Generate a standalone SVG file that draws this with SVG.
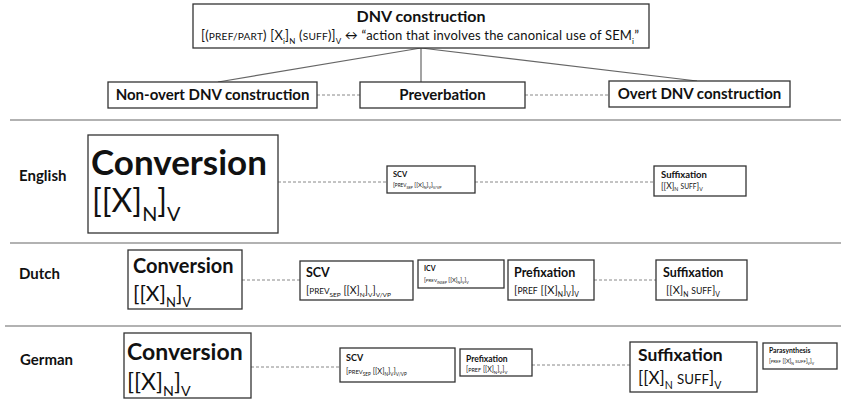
<svg xmlns="http://www.w3.org/2000/svg" width="843" height="400" viewBox="0 0 843 400">
<style>
text{font-family:Lato,"Open Sans","Liberation Sans",sans-serif;fill:#111}
.b{font-weight:bold}
.box{fill:#fff;stroke:#333;stroke-width:1.3}
.sep{stroke:#999;stroke-width:1.6}
.dash{stroke:#888;stroke-width:1;stroke-dasharray:3 2;fill:none}
.ln{stroke:#666;stroke-width:1.2;fill:none}
.sc{font-size:78%}
.sub{font-size:62%;baseline-shift:-0.45em}
</style>
<rect width="843" height="400" fill="#fff"/>
<g id="separators">
<line class="sep" x1="10" y1="120" x2="841" y2="120"/>
<line class="sep" x1="10" y1="243" x2="841" y2="243"/>
<line class="sep" x1="5" y1="326" x2="841" y2="326"/>
</g>
<g id="connectors">
<line class="ln" x1="421" y1="48" x2="218" y2="82"/>
<line class="ln" x1="421" y1="48" x2="421" y2="82"/>
<line class="ln" x1="421" y1="48" x2="697" y2="81"/>
<line class="dash" x1="317" y1="95" x2="360" y2="95"/>
<line class="dash" x1="525" y1="95" x2="609" y2="95"/>
<line class="dash" x1="278" y1="182" x2="387" y2="182"/>
<line class="dash" x1="475" y1="182" x2="654" y2="182"/>
<line class="dash" x1="242" y1="280" x2="300" y2="280"/>
<line class="dash" x1="594" y1="280" x2="656" y2="280"/>
<line class="dash" x1="251" y1="367" x2="340" y2="367"/>
<line class="dash" x1="532" y1="365" x2="630" y2="365"/>
</g>
<g id="dnv">
<rect class="box" x="193" y="4" width="456" height="44"/>
<text class="b" x="421" y="22" font-size="16" text-anchor="middle">DNV construction</text>
<text x="201" y="40" font-size="13" textLength="438">[(<tspan class="sc">PREF/PART</tspan>) [X<tspan class="sub">i</tspan>]<tspan class="sub">N</tspan> (<tspan class="sc">SUFF</tspan>)]<tspan class="sub">V</tspan> ↔ “action that involves the canonical use of SEM<tspan class="sub">i</tspan>”</text>
</g>
<g id="nonovert">
<rect class="box" x="108" y="82" width="209" height="26"/>
<text class="b" x="212.5" y="100" font-size="15" text-anchor="middle">Non-overt DNV construction</text>
</g>
<g id="preverbation">
<rect class="box" x="360" y="82" width="165" height="26"/>
<text class="b" x="442.5" y="100" font-size="15" text-anchor="middle">Preverbation</text>
</g>
<g id="overt">
<rect class="box" x="609" y="81" width="181" height="26"/>
<text class="b" x="699.5" y="99" font-size="15" text-anchor="middle">Overt DNV construction</text>
</g>
<g id="labels">
<text class="b" x="19" y="181" font-size="15">English</text>
<text class="b" x="19" y="279" font-size="15">Dutch</text>
<text class="b" x="20" y="365" font-size="15">German</text>
</g>
<g id="en-conversion">
<rect class="box" x="88" y="135" width="190" height="98"/>
<text class="b" x="91" y="175" font-size="35">Conversion</text>
<text x="92" y="212" font-size="32">[[X]<tspan class="sub">N</tspan>]<tspan class="sub">V</tspan></text>
</g>
<g id="en-scv">
<rect class="box" x="387" y="166" width="88" height="27"/>
<text class="b" x="393" y="177" font-size="7.5">SCV</text>
<text x="393" y="187" font-size="6">[<tspan class="sc">PREV</tspan><tspan class="sub">SEP</tspan> [[X]<tspan class="sub">N</tspan>]<tspan class="sub">V</tspan>]<tspan class="sub">V/VP</tspan></text>
</g>
<g id="en-suffixation">
<rect class="box" x="654" y="166" width="92" height="30"/>
<text class="b" x="661" y="178" font-size="9.5">Suffixation</text>
<text x="661" y="189" font-size="8.5">[[X]<tspan class="sub">N</tspan> <tspan class="sc">SUFF</tspan>]<tspan class="sub">V</tspan></text>
</g>
<g id="nl-conversion">
<rect class="box" x="128" y="250" width="114" height="59"/>
<text class="b" x="133" y="273" font-size="20">Conversion</text>
<text x="133" y="301" font-size="21">[[X]<tspan class="sub">N</tspan>]<tspan class="sub">V</tspan></text>
</g>
<g id="nl-scv">
<rect class="box" x="300" y="261" width="113" height="39"/>
<text class="b" x="306" y="277" font-size="12.5">SCV</text>
<text x="306" y="294" font-size="10.5">[<tspan class="sc">PREV</tspan><tspan class="sub">SEP</tspan> [[X]<tspan class="sub">N</tspan>]<tspan class="sub">V</tspan>]<tspan class="sub">V/VP</tspan></text>
</g>
<g id="nl-icv">
<rect class="box" x="418" y="260" width="86" height="28"/>
<text class="b" x="424" y="271" font-size="7">ICV</text>
<text x="424" y="282" font-size="5.8">[<tspan class="sc">PREV</tspan><tspan class="sub">INSEP</tspan> [[X]<tspan class="sub">N</tspan>]<tspan class="sub">V</tspan>]<tspan class="sub">V</tspan></text>
</g>
<g id="nl-prefixation">
<rect class="box" x="508" y="260" width="86" height="40"/>
<text class="b" x="514" y="277" font-size="12.5">Prefixation</text>
<text x="514" y="294" font-size="11">[<tspan class="sc">PREF</tspan> [[X]<tspan class="sub">N</tspan>]<tspan class="sub">V</tspan>]<tspan class="sub">V</tspan></text>
</g>
<g id="nl-suffixation">
<rect class="box" x="656" y="260" width="91" height="40"/>
<text class="b" x="663" y="277" font-size="12.5">Suffixation</text>
<text x="666" y="294" font-size="11">[[X]<tspan class="sub">N</tspan> <tspan class="sc">SUFF</tspan>]<tspan class="sub">V</tspan></text>
</g>
<g id="de-conversion">
<rect class="box" x="124" y="333" width="127" height="65"/>
<text class="b" x="127" y="360" font-size="23">Conversion</text>
<text x="127" y="390" font-size="23">[[X]<tspan class="sub">N</tspan>]<tspan class="sub">V</tspan></text>
</g>
<g id="de-scv">
<rect class="box" x="340" y="348" width="115" height="34"/>
<text class="b" x="346" y="361" font-size="9">SCV</text>
<text x="346" y="374" font-size="7.5">[<tspan class="sc">PREV</tspan><tspan class="sub">SEP</tspan> [[X]<tspan class="sub">N</tspan>]<tspan class="sub">V</tspan>]<tspan class="sub">V/VP</tspan></text>
</g>
<g id="de-prefixation">
<rect class="box" x="460" y="349" width="72" height="27"/>
<text class="b" x="466" y="362" font-size="8.5">Prefixation</text>
<text x="466" y="372" font-size="7">[<tspan class="sc">PREF</tspan> [[X]<tspan class="sub">N</tspan>]<tspan class="sub">V</tspan>]<tspan class="sub">V</tspan></text>
</g>
<g id="de-suffixation">
<rect class="box" x="630" y="342" width="127" height="50"/>
<text class="b" x="638" y="361" font-size="17.5">Suffixation</text>
<text x="638" y="384" font-size="17">[[X]<tspan class="sub">N</tspan> <tspan class="sc">SUFF</tspan>]<tspan class="sub">V</tspan></text>
</g>
<g id="de-parasynthesis">
<rect class="box" x="763" y="343" width="74" height="26"/>
<text class="b" x="769" y="353" font-size="6.8">Parasynthesis</text>
<text x="769" y="363" font-size="5.6">[<tspan class="sc">PREF</tspan> [[X]<tspan class="sub">N</tspan> <tspan class="sc">SUFF</tspan>]<tspan class="sub">V</tspan>]<tspan class="sub">V</tspan></text>
</g>
</svg>
